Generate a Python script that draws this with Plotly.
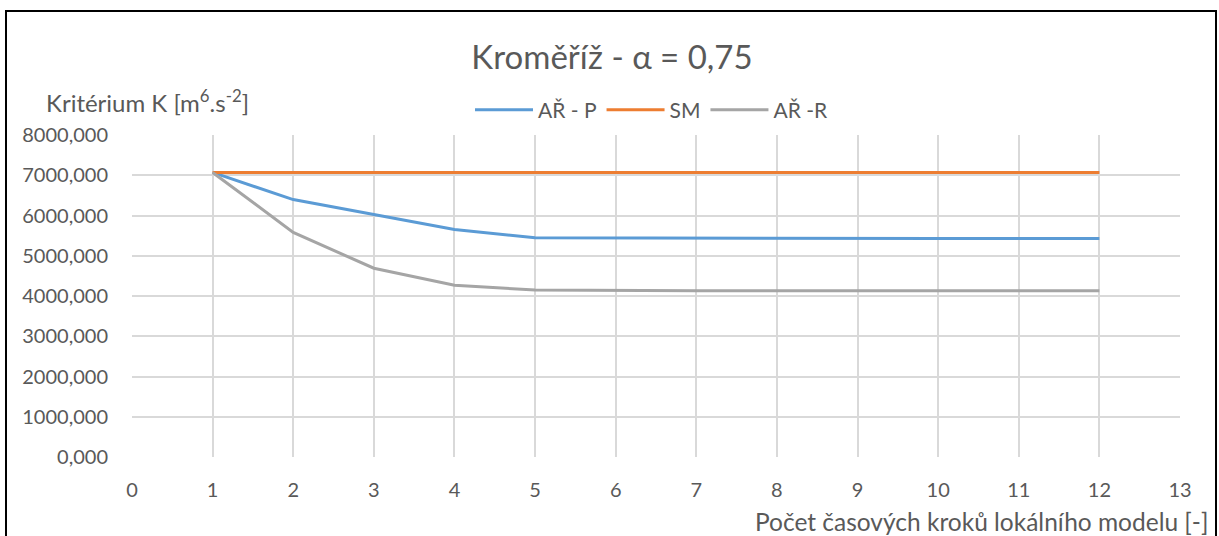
import plotly.graph_objects as go

steps = [1, 2, 3, 4, 5, 6, 7, 8, 9, 10, 11, 12]
ar_p = [7070, 6395, 6025, 5650, 5445, 5440, 5430, 5430, 5430, 5430, 5430, 5430]
sm = [7070, 7070, 7070, 7070, 7070, 7070, 7070, 7070, 7070, 7070, 7070, 7070]
ar_r = [7070, 5580, 4690, 4265, 4150, 4135, 4133, 4133, 4133, 4133, 4133, 4133]
series_names = ["AŘ - P", "SM", "AŘ -R"]
colors = ["#5b9bd5", "#ed7d31", "#a5a5a5"]

FONT = "Lato"
TXT = "#595959"

fig = go.Figure()
for name, vals, c in zip(series_names, [ar_p, sm, ar_r], colors):
    fig.add_trace(go.Scatter(x=steps, y=vals, mode="lines", name=name,
                             line=dict(color=c, width=3)))

W, H = 1219, 536
L, R, T, B = 132, 39, 135, 79
pw, ph = W - L - R, H - T - B

def px(x):
    return (x - L) / pw

def py(y):
    return (H - B - y) / ph

fig.update_layout(
    width=W, height=H,
    margin=dict(l=L, r=R, t=T, b=B),
    paper_bgcolor="white", plot_bgcolor="white",
    separators=", ",
    font=dict(family=FONT, color=TXT, size=20),
    title=dict(text="Kroměříž - α = 0,75", x=612 / W, xanchor="center",
               xref="container", y=1 - 57 / H, yanchor="middle",
               font=dict(family=FONT, size=33, color=TXT)),
    legend=dict(orientation="h", x=px(652), xanchor="center", y=py(110),
                yanchor="middle", font=dict(family=FONT, size=21, color=TXT),
                itemwidth=58, bgcolor="rgba(0,0,0,0)", tracegroupgap=0),
    showlegend=True,
    xaxis=dict(range=[0, 13], tickvals=list(range(0, 14)), showgrid=True,
               gridcolor="#d9d9d9", gridwidth=1.5, zeroline=False,
               showline=False, ticks="", ticklabelstandoff=19,
               tickfont=dict(family=FONT, size=20, color=TXT)),
    yaxis=dict(range=[0, 8000], tickvals=list(range(0, 8001, 1000)),
               tickformat=".3f", showgrid=True, gridcolor="#d9d9d9",
               gridwidth=1.5, zeroline=False, showline=False, ticks="",
               ticklabelstandoff=23,
               tickfont=dict(family=FONT, size=20, color=TXT)),
)

fig.add_annotation(text="Kritérium K [m<sup>6</sup>.s<sup>-2</sup>]",
                   xref="paper", yref="paper", x=px(44), y=py(101),
                   xanchor="left", yanchor="middle", showarrow=False,
                   font=dict(family=FONT, size=24, color=TXT))
fig.add_annotation(text="Počet časových kroků lokálního modelu [-]",
                   xref="paper", yref="paper", x=px(1210), y=py(521),
                   xanchor="right", yanchor="middle", showarrow=False,
                   font=dict(family=FONT, size=24.5, color=TXT))

fig.add_shape(type="rect", xref="paper", yref="paper",
              x0=px(6), x1=px(1216), y0=py(545), y1=py(11),
              line=dict(color="black", width=2), fillcolor="rgba(0,0,0,0)",
              layer="below")

fig.write_html("out.html")
